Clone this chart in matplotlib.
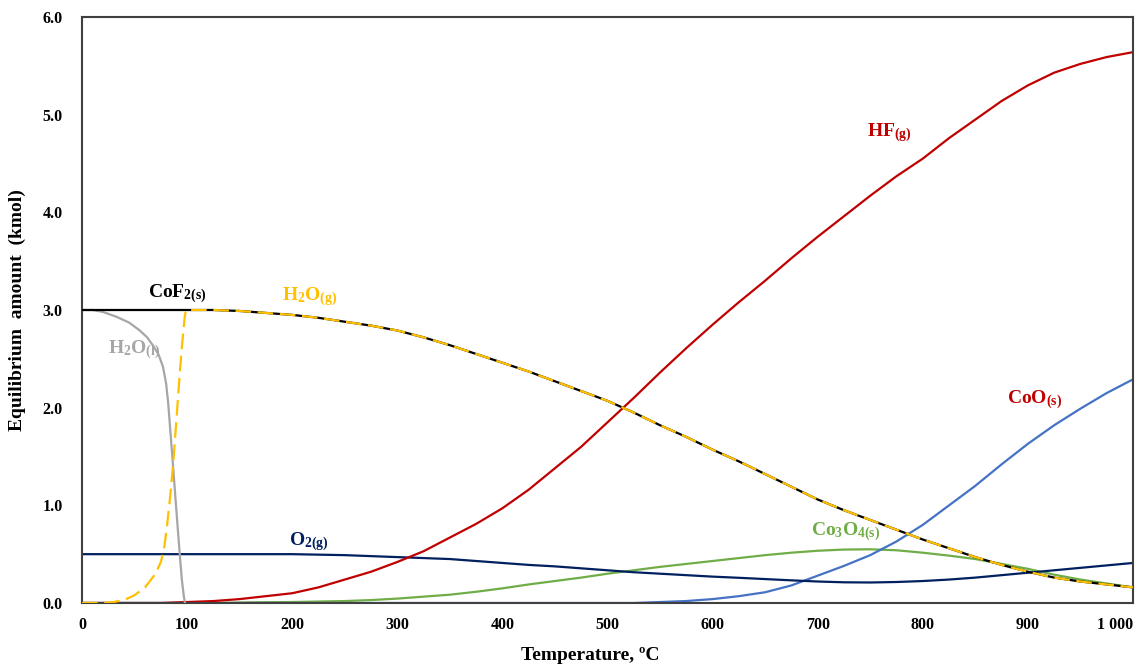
import matplotlib
matplotlib.use("Agg")
import matplotlib.pyplot as plt

plt.rcParams['font.family'] = ['Liberation Serif', 'DejaVu Serif']
plt.rcParams['font.weight'] = 'bold'
plt.rcParams['mathtext.fontset'] = 'custom'
plt.rcParams['mathtext.rm'] = 'Liberation Serif:bold'
plt.rcParams['mathtext.it'] = 'Liberation Serif:bold'
plt.rcParams['mathtext.bf'] = 'Liberation Serif:bold'
plt.rcParams['mathtext.default'] = 'rm'

# ---- data ----
T_h2ol = [0, 10, 20, 33, 45, 55, 62, 68, 73, 77, 80, 82, 84, 87, 90, 93, 95, 97, 98]
h2o_l = [3.0, 3.0, 2.98, 2.93, 2.87, 2.79, 2.72, 2.63, 2.54, 2.42, 2.25, 2.05, 1.77,
         1.35, 0.92, 0.5, 0.24, 0.06, 0.0]

T_h2og_low = [0, 20, 30, 40, 50, 60, 70, 75, 78, 81, 84, 87, 90, 93, 95, 97, 98, 99]
h2o_g_low = [0.0, 0.0, 0.01, 0.03, 0.08, 0.16, 0.3, 0.42, 0.55, 0.8, 1.1, 1.46, 1.9,
             2.35, 2.62, 2.85, 2.95, 3.0]

T_cof2_low = [0, 50, 99]
cof2_low = [3.0, 3.0, 3.0]

T_std = [0, 25, 50, 75, 100, 125, 150, 175, 200, 225, 250, 275, 300, 325, 350, 375,
         400, 425, 450, 475, 500, 525, 550, 575, 600, 625, 650, 675, 700, 725, 750,
         775, 800, 825, 850, 875, 900, 925, 950, 975, 1000]
# CoF2(s) and H2O(g) coincide above 100 °C
cof2_high = [3.0, 3.0, 3.0, 3.0, 3.0, 3.0, 2.99, 2.97, 2.95, 2.92, 2.88, 2.84, 2.79,
             2.72, 2.64, 2.55, 2.46, 2.37, 2.27, 2.17, 2.07, 1.95, 1.82, 1.7, 1.57,
             1.45, 1.32, 1.19, 1.06, 0.95, 0.85, 0.75, 0.65, 0.56, 0.47, 0.39, 0.32,
             0.26, 0.22, 0.19, 0.16]
hf = [0.0, 0.0, 0.0, 0.0, 0.01, 0.02, 0.04, 0.07, 0.1, 0.16, 0.24, 0.32, 0.42, 0.53,
      0.67, 0.81, 0.97, 1.16, 1.38, 1.6, 1.85, 2.1, 2.36, 2.61, 2.85, 3.08, 3.3, 3.53,
      3.75, 3.96, 4.17, 4.37, 4.55, 4.76, 4.95, 5.14, 5.3, 5.43, 5.52, 5.59, 5.64]
o2 = [0.5, 0.5, 0.5, 0.5, 0.5, 0.5, 0.5, 0.5, 0.5, 0.495, 0.49, 0.48, 0.47, 0.46,
      0.45, 0.43, 0.41, 0.39, 0.375, 0.355, 0.335, 0.315, 0.3, 0.285, 0.27, 0.258,
      0.245, 0.232, 0.22, 0.212, 0.21, 0.215, 0.225, 0.24, 0.26, 0.285, 0.31, 0.335,
      0.36, 0.385, 0.41]
co3o4 = [0.0, 0.0, 0.0, 0.0, 0.0, 0.0, 0.005, 0.008, 0.01, 0.015, 0.02, 0.03, 0.045,
         0.065, 0.085, 0.115, 0.15, 0.19, 0.225, 0.26, 0.3, 0.335, 0.37, 0.4, 0.43,
         0.46, 0.49, 0.515, 0.535, 0.547, 0.55, 0.54, 0.515, 0.485, 0.45, 0.4, 0.35,
         0.29, 0.24, 0.2, 0.16]
coo = [0.0] * 22 + [0.01, 0.02, 0.04, 0.07, 0.11, 0.18, 0.28, 0.38, 0.49, 0.63, 0.8,
                    1.0, 1.2, 1.42, 1.63, 1.82, 1.99, 2.15, 2.29]

x_ticks = [0, 100, 200, 300, 400, 500, 600, 700, 800, 900, 1000]
x_tick_labels = ['0', '100', '200', '300', '400', '500', '600', '700', '800', '900', '1 000']
y_ticks = [0, 1, 2, 3, 4, 5, 6]
y_tick_labels = ['0.0', '1.0', '2.0', '3.0', '4.0', '5.0', '6.0']

# ---- figure ----
fig = plt.figure(figsize=(11.35, 6.68), dpi=100)
ax = fig.add_axes([82 / 1135, 65 / 668, 1051 / 1135, 586 / 668])

T_hi = [t for t in T_std if t >= 100]
n_skip = len(T_std) - len(T_hi)
cof2_hi = cof2_high[n_skip:]

lw = 1.6
ax.plot(T_std, co3o4, color='#70AD47', lw=lw, zorder=2)
ax.plot(T_std, coo, color='#4472C4', lw=lw, zorder=2)
ax.plot(T_std, o2, color='#002060', lw=lw, zorder=2)
ax.plot(T_std, hf, color='#C00000', lw=lw, zorder=2)
ax.plot(T_h2ol, h2o_l, color='#A6A6A6', lw=lw, zorder=3)
ax.plot(T_cof2_low + T_hi, cof2_low + cof2_hi, color='black', lw=lw, zorder=4)
ax.plot(T_h2og_low + T_hi, h2o_g_low + cof2_hi, color='#FFC000', lw=lw,
        dashes=(7, 3), zorder=5)

ax.set_xlim(0, 1000)
ax.set_ylim(0, 6)
ax.set_xticks(x_ticks)
ax.set_xticklabels(x_tick_labels)
ax.set_yticks(y_ticks)
ax.set_yticklabels(y_tick_labels)
ax.tick_params(length=0, labelsize=11.5)
ax.tick_params(axis='x', pad=10)
ax.tick_params(axis='y', pad=14)
for lab in ax.get_xticklabels() + ax.get_yticklabels():
    lab.set_fontweight('bold')
ax.get_xticklabels()[-1].set_horizontalalignment('right')

for s in ax.spines.values():
    s.set_color('#404040')
    s.set_linewidth(1.5)

ax.set_xlabel('Temperature, ºC', fontsize=14, fontweight='bold')
ax.xaxis.set_label_coords(0.484, -0.075)
ax.set_ylabel('Equilibrium  amount  (kmol)', fontsize=14, fontweight='bold')
ax.yaxis.set_label_coords(-0.053, 0.5)

fs = 14
ax.text(91, 3.17, r'CoF$_{2(s)}$', color='black', fontsize=fs, ha='center', va='center')
ax.text(217, 3.14, r'H$_2$O$_{(g)}$', color='#FFC000', fontsize=fs, ha='center', va='center')
ax.text(50, 2.59, r'H$_2$O$_{(l)}$', color='#A6A6A6', fontsize=fs, ha='center', va='center')
ax.text(768, 4.81, r'HF$_{(g)}$', color='#C00000', fontsize=fs, ha='center', va='center')
ax.text(906, 2.08, r'CoO$_{(s)}$', color='#C00000', fontsize=fs, ha='center', va='center')
ax.text(727, 0.73, r'Co$_3$O$_{4(s)}$', color='#70AD47', fontsize=fs, ha='center', va='center')
ax.text(216, 0.63, r'O$_{2(g)}$', color='#002060', fontsize=fs, ha='center', va='center')

fig.savefig('out.png', dpi=100)
